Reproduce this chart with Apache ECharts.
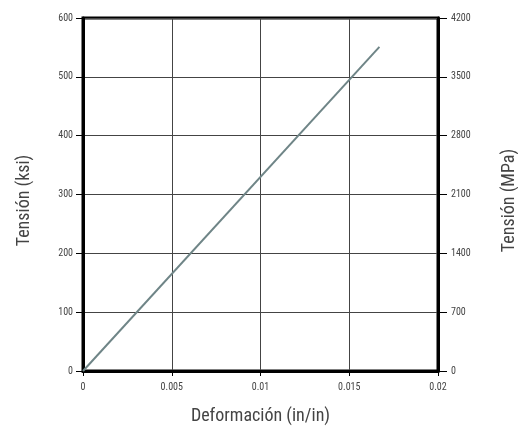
<!DOCTYPE html>
<html>
<head>
<meta charset="utf-8">
<script src="https://cdn.jsdelivr.net/npm/echarts@6/dist/echarts.min.js"></script>
<style>html,body{margin:0;padding:0;background:#fff}#c{width:518px;height:431px}</style>
</head>
<body>
<div id="c"></div>
<script>
var strain = [0, 0.0167];
var stressKsi = [0, 551];
var xTicks = [0, 0.005, 0.01, 0.015, 0.02];
var ksiTicks = [0, 100, 200, 300, 400, 500, 600];
var mpaTicks = [0, 700, 1400, 2100, 2800, 3500, 4200];
var xTitle = 'Deformación (in/in)';
var leftTitle = 'Tensión (ksi)';
var rightTitle = 'Tensión (MPa)';

var FONT = '"Liberation Sans Narrow", "Roboto Condensed", "DejaVu Sans Condensed", sans-serif';
var chart = echarts.init(document.getElementById('c'), null, {renderer: 'canvas'});
var data = strain.map(function (x, i) { return [x, stressKsi[i]]; });
function plain(v) { return String(parseFloat(v.toFixed(4))); }
chart.setOption({
  animation: false,
  grid: {left: 83, right: 80, top: 18, bottom: 60, outerBoundsMode: 'none', containLabel: false,
    show: true, borderColor: '#000', borderWidth: 3, backgroundColor: 'transparent'},
  xAxis: {
    type: 'value', min: xTicks[0], max: xTicks[xTicks.length - 1], interval: 0.005,
    name: xTitle, nameLocation: 'middle', nameGap: 36,
    nameTextStyle: {fontFamily: FONT, fontSize: 18, color: '#444'},
    axisLine: {show: true, lineStyle: {color: '#000', width: 3}},
    axisTick: {show: true, inside: false, length: 5, lineStyle: {color: '#000', width: 1}},
    axisLabel: {fontFamily: FONT, fontSize: 10, color: '#444', margin: 11, formatter: plain},
    splitLine: {show: true, lineStyle: {color: '#444', width: 1}}
  },
  yAxis: [{
    type: 'value', position: 'left', min: ksiTicks[0], max: ksiTicks[ksiTicks.length - 1], interval: 100,
    name: leftTitle, nameLocation: 'middle', nameGap: 50, nameRotate: 90,
    nameTextStyle: {fontFamily: FONT, fontSize: 18, color: '#444', padding: [0, 12, 0, 0]},
    axisLine: {show: true, lineStyle: {color: '#000', width: 3}},
    axisTick: {show: true, length: 7, lineStyle: {color: '#000', width: 1}},
    axisLabel: {fontFamily: FONT, fontSize: 10, color: '#444', margin: 10, formatter: plain},
    splitLine: {show: true, lineStyle: {color: '#444', width: 1}}
  }, {
    type: 'value', position: 'right', min: mpaTicks[0], max: mpaTicks[mpaTicks.length - 1], interval: 700,
    name: rightTitle, nameLocation: 'middle', nameGap: 62, nameRotate: 90,
    nameTextStyle: {fontFamily: FONT, fontSize: 18, color: '#444', padding: [0, 12, 0, 0]},
    axisLine: {show: true, lineStyle: {color: '#000', width: 3}},
    axisTick: {show: true, length: 9, lineStyle: {color: '#000', width: 1}},
    axisLabel: {fontFamily: FONT, fontSize: 10, color: '#444', margin: 13, formatter: plain},
    splitLine: {show: false}
  }],
  series: [{
    type: 'line', yAxisIndex: 0, data: data, showSymbol: false, symbol: 'none',
    lineStyle: {color: '#6f8587', width: 2}
  }]
});
</script>
</body>
</html>
